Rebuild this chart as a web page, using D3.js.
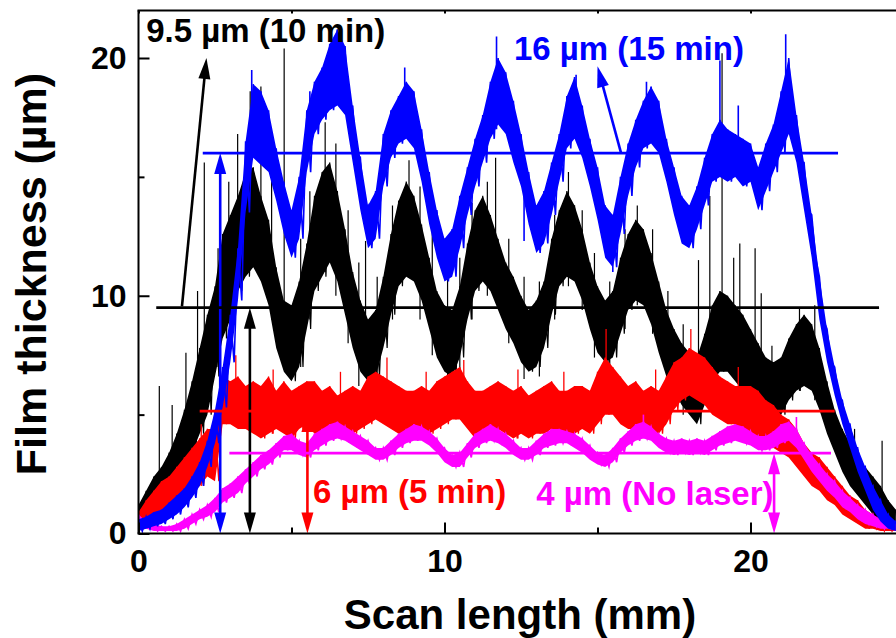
<!DOCTYPE html>
<html><head><meta charset="utf-8">
<script src="https://cdn.jsdelivr.net/npm/d3@7"></script>
<style>
body{margin:0;background:#fff}
text{font-family:"Liberation Sans",Arial,Helvetica,sans-serif;font-weight:bold}
</style>
</head><body>
<svg id="chart" width="896" height="638"></svg>
<script>
// ---------- DATA (0.25 mm bins: lower / upper edge of the noisy trace) ----------
const stepMM = 0.25;
const xTicks = [0, 10, 20];
const xMinorTicks = [5, 15];
const yTicks = [0, 10, 20];
const yMinorTicks = [5, 15];

const blueLo = [0.1,0.2,0.3,0.4, 0.6,0.8,1.1,1.5, 2.0,2.8,3.8,5.3, 7.2,9.8,13.5,15.8,
 15.5,15.2,14.0,12.6, 11.6,12.4,15.2,16.8, 17.4,17.8,18.0,17.6, 15.6,13.6,12.0,12.4,
 14.6,15.8,16.4,16.6, 16.2,14.8,13.0,11.6, 10.6,10.8,12.0,13.4, 14.6,15.6,16.6,17.2,
 16.8,15.6,14.6,13.0, 11.8,12.2,13.4,14.8, 16.2,16.6,15.8,14.6, 13.2,11.6,11.2,12.6,
 14.2,15.4,16.2,16.4, 16.0,14.8,13.4,12.2, 12.0,12.8,13.8,14.8, 15.0,14.8,15.0,14.6,
 14.8,13.6,14.4,15.2, 16.0,16.8,15.6,13.6, 11.6,9.0,7.2,5.8, 4.6,3.6,2.6,1.8, 1.0,0.5,0.2,0.1];
const blueHi = [0.6,0.7,0.9,1.0, 1.3,1.6,1.9,2.4, 3.0,3.9,5.2,7.0, 9.2,12.0,16.5,18.9,
 18.6,17.8,16.2,14.8, 13.6,15.0,17.8,19.0, 19.6,20.6,21.2,20.5, 18.0,15.8,13.8,14.4,
 16.8,17.8,18.4,19.0, 18.6,17.0,15.2,13.6, 12.4,12.8,14.2,15.4, 16.6,17.6,19.0,20.0,
 19.4,18.2,16.8,15.2, 13.8,14.4,15.6,16.8, 18.4,19.2,18.0,16.6, 15.4,13.8,13.4,15.0,
 16.4,17.4,18.2,18.8, 18.2,16.6,15.4,14.2, 13.8,14.6,15.8,16.8, 17.4,17.0,16.8,16.6,
 16.4,15.4,16.4,17.2, 18.6,20.0,17.6,15.6, 13.4,10.8,8.6,7.0, 5.6,4.6,3.6,2.8, 2.0,1.4,0.8,0.5];

const blackLo = [0.3,0.6,0.8,1.2, 1.5,1.8,2.6,3.4, 4.2,5.0,6.6,8.2, 9.0,10.2,10.8,11.2,
 10.6,9.6,7.8,6.8, 6.4,7.0,8.6,10.2, 10.8,11.4,10.6,9.2, 7.8,6.8,6.4,6.6,
 7.8,9.2,10.4,10.8, 10.6,9.8,8.6,7.4, 6.8,6.6,7.4,9.0, 10.2,10.6,10.2,9.4,
 8.6,8.0,7.2,6.8, 7.0,7.8,9.2,10.4, 10.8,10.6,9.8,8.6, 7.6,7.2,7.4,8.4,
 9.4,9.8,9.6,8.8, 7.6,6.6,6.0,5.4, 5.0,4.6,5.4,6.4, 6.8,6.8,6.4,6.0,
 5.6,5.2,4.8,4.8, 5.0,5.6,6.0,6.2, 6.0,5.2,4.2,3.4, 2.6,2.0,1.6,1.2, 0.8,0.4,0.2,0.2];
const blackHi = [1.2,1.8,2.4,2.8, 3.4,4.2,5.2,6.4, 7.8,9.2,10.4,12.6, 13.4,14.2,15.2,15.4,
 14.2,13.2,11.2,9.8, 9.6,10.6,12.2,14.2, 15.2,15.6,14.4,12.8, 11.0,9.8,9.0,9.4,
 10.8,12.6,14.0,14.8, 14.2,13.0,11.6,10.2, 9.6,9.4,10.4,12.2, 13.6,14.2,13.4,12.4,
 11.4,10.8,10.0,9.4, 9.8,10.6,12.4,13.6, 14.4,13.8,12.8,11.4, 10.4,9.8,10.2,11.6,
 12.6,13.2,12.8,11.8, 10.6,9.4,8.6,8.0, 7.6,7.4,8.4,9.6, 10.2,10.0,9.6,9.2,
 8.6,8.0,7.4,7.2, 7.4,8.2,8.8,9.2, 8.8,7.8,6.4,5.2, 4.4,3.8,3.2,2.8, 2.4,2.0,1.4,1.0];

const redLo = [0.1,0.3,0.6,0.8, 1.0,1.2,1.4,1.8, 2.0,2.4,2.2,4.6, 4.6,4.4,4.4,4.2,
 4.0,4.2,4.4,4.2, 4.0,4.4,4.6,4.2, 4.2,4.0,4.2,4.0, 4.2,4.4,4.6,4.8,
 4.6,4.4,4.2,4.0, 4.2,4.0,4.2,4.4, 4.6,4.8,4.8,4.4, 4.0,4.0,4.2,4.4,
 4.2,4.0,4.2,4.0, 4.2,4.2,4.4,4.2, 4.0,4.2,4.4,4.2, 4.6,5.0,5.0,4.6,
 4.4,4.4,4.2,4.4, 4.2,4.6,5.2,5.6, 5.8,5.6,5.4,5.0, 4.8,4.6,4.6,4.4,
 4.2,4.0,3.8,3.6, 3.4,3.2,2.8,2.4, 2.0,1.8,1.4,1.2, 0.8,0.6,0.4,0.2, 0.2,0.1,0.1,0.1];
const redHi = [0.9,1.4,1.8,2.2, 2.4,2.8,3.2,3.6, 4.0,4.4,4.4,6.6, 6.4,6.6,6.2,6.4,
 6.2,6.6,6.0,6.4, 6.0,6.2,6.4,6.4, 6.0,6.2,5.8,6.0, 6.2,6.0,6.6,6.8,
 6.6,6.4,6.2,6.0, 6.0,6.2,6.0,6.4, 6.6,6.8,7.0,6.4, 6.0,6.0,6.2,6.4,
 6.2,6.0,6.2,5.8, 6.0,6.2,6.4,6.0, 6.0,6.2,6.2,6.0, 6.8,7.4,7.0,6.6,
 6.2,6.4,6.0,6.2, 6.0,6.6,7.2,7.4, 7.8,7.6,7.4,7.0, 6.6,6.4,6.2,6.2,
 6.2,6.0,5.6,5.4, 5.0,4.8,4.4,3.8, 3.4,3.2,2.8,2.4, 2.0,1.6,1.4,1.0, 0.8,0.6,0.5,0.4];

const magentaLo = [0.3,0.2,0.1,0.1, 0.1,0.1,0.2,0.4, 0.6,0.7,0.9,1.3, 1.5,1.7,2.1,2.4,
 2.7,2.9,3.2,3.5, 3.5,3.3,3.2,3.5, 3.7,3.9,4.0,3.9, 3.7,3.5,3.3,3.1,
 3.1,3.3,3.6,3.8, 3.9,3.9,3.7,3.4, 3.0,2.8,2.8,3.2, 3.6,3.8,3.9,3.8,
 3.6,3.3,3.1,3.1, 3.3,3.6,3.7,3.8, 3.8,3.6,3.4,3.1, 2.9,2.8,3.0,3.4,
 3.7,3.9,4.0,3.9, 3.6,3.4,3.3,3.4, 3.3,3.4,3.3,3.5, 3.7,3.8,3.9,3.8,
 3.7,3.5,3.5,3.6, 3.8,3.9,3.6,3.1, 2.6,2.2,1.8,1.5, 1.1,0.9,0.6,0.4, 0.3,0.2,0.2,0.1];
const magentaHi = [0.8,0.5,0.4,0.3, 0.3,0.4,0.6,0.8, 1.0,1.2,1.5,1.9, 2.1,2.4,2.7,3.0,
 3.3,3.5,3.8,4.1, 4.2,3.9,3.8,4.2, 4.4,4.6,4.7,4.5, 4.3,4.1,3.9,3.6,
 3.6,3.9,4.2,4.4, 4.6,4.5,4.3,4.0, 3.6,3.3,3.4,3.8, 4.2,4.4,4.6,4.4,
 4.2,3.9,3.6,3.6, 3.9,4.2,4.4,4.4, 4.3,4.2,4.0,3.7, 3.4,3.3,3.6,4.0,
 4.3,4.6,4.7,4.5, 4.2,4.0,3.9,4.0, 3.9,4.0,3.9,4.1, 4.3,4.5,4.6,4.5,
 4.3,4.1,4.1,4.3, 4.6,4.7,4.4,3.8, 3.3,2.9,2.5,2.2, 1.8,1.5,1.2,1.0, 0.8,0.6,0.5,0.4];

// isolated narrow spikes: [mm, from, to]
const blackSpikes = [[0.68,1.5,6.2],[1.1,2,5.4],[1.55,3,7.6],[1.93,5,10.2],[2.15,6,15.6],[2.6,7,12.0],
 [2.95,9,14.8],[3.24,11,16.8],[3.65,12,18.6],[4.0,11,18.8],[4.35,9,15.2],[4.76,8,20.4],[5.3,7,12.4],
 [5.6,9,14.4],[6.1,11,17.3],[6.45,10,16.4],[6.85,8,13.6],[7.2,6.2,11.4],[7.42,7,12.3],[7.8,5.8,10.8],
 [8.3,9,13.8],[8.84,11,15.7],[9.2,9,14.6],[9.6,7.5,12.8],[10.1,6.2,10.8],[10.5,6.6,11.6],[10.9,9,13.9],
 [11.4,10,14.8],[11.67,10,15.8],[12.1,8,12.4],[12.6,6.5,10.8],[13.1,6.6,10.6],[13.6,9,13.4],[14.05,10.4,15.2],
 [14.5,9.4,13.6],[14.9,7.4,11.8],[15.4,6.8,10.6],[15.9,8.6,12.8],[16.3,9.6,13.8],[16.8,8.4,12.8],
 [17.3,6.2,10.2],[17.8,5.0,8.8],[18.3,5,11.5],[18.67,7,14.2],[19.07,7,20.2],[19.45,7,11.6],[19.65,7,12.2],
 [20.15,6,12.0],[20.35,6,10.1],[20.7,4.4,7.9],[21.6,6,9.5],[22.1,5.6,9.6],[23.4,1.8,4.4],[24.3,0.5,3.9]];
const blueSpikes = [[3.7,16,19.5],[5.6,16,18.6],[6.5,19,21.2],[8.7,17,19.6],[11.7,17,20.9],[14.3,17,19.3],
 [16.6,17,19.0],[19.0,15,19.9],[19.6,15,18.0],[21.15,17,21.0],[12.6,12.3,16],[15.5,11.0,13]];
const redSpikes = [[2.05,2,4.6],[3.18,5,7.5],[4.4,4.2,6.9],[6.6,4.0,6.8],[8.12,5,7.4],[9.4,4.0,6.8],
 [10.63,5,7.3],[12.4,4.0,6.9],[13.9,4.2,6.8],[15.28,5.5,8.6],[16.9,4.4,6.9],[18.05,6,8.6],[19.6,4.6,7.0]];
const magentaSpikes = [[16.5,4,5.0],[21.5,4,4.9]];

// average-thickness markers
const levelNames = ["blue","black","red","magenta"];
const levelValues = [16, 9.5, 5.15, 3.38];
const levelStart = [2.1, 0.58, 2.0, 2.97];
const levelEnd = [22.86, 24.2, 22.75, 22.63];
const levelArrowX = [2.67, 3.64, 5.52, 20.77];
const labelTexts = ["16 µm (15 min)", "9.5 µm (10 min)", "6 µm (5 min)", "4 µm (No laser)"];

// ---------- CHART ----------
const colors = {blue:"#0000ff", black:"#000000", red:"#ff0000", magenta:"#ff00ff"};
const svg = d3.select("#chart");
const x = d3.scaleLinear().domain([0, 24.8]).range([138.5, 897.4]);
const y = d3.scaleLinear().domain([0, 22]).range([533.5, 10.45]);

svg.append("defs").append("clipPath").attr("id","clip")
  .append("rect").attr("x",138.5).attr("y",10.5).attr("width",760).attr("height",523);

const plot = svg.append("g").attr("clip-path","url(#clip)");

function zig(lo, hi){
  const pts = [];
  lo.forEach((l,i)=>{ pts.push([i*stepMM, hi[i]]); pts.push([i*stepMM + stepMM/2, l]); });
  return pts;
}
const line = d3.line().x(d=>x(d[0])).y(d=>y(d[1]));
const area = d3.area().x((d,i)=>x(i*stepMM)).y0(d=>y(d[0])).y1(d=>y(d[1]));

const series = [
  {c:"black", lo:blackLo, hi:blackHi, sp:blackSpikes, w:1.2, op:1},
  {c:"red", lo:redLo, hi:redHi, sp:redSpikes, w:1.3, op:1},
  {c:"magenta", lo:magentaLo, hi:magentaHi, sp:magentaSpikes, w:1.6, op:1},
  {c:"blue", lo:blueLo, hi:blueHi, sp:blueSpikes, w:1.6, op:1}
];
series.forEach(s=>{
  const band = s.lo.map((l,i)=>[l, s.hi[i]]);
  plot.append("path").attr("d", area(band)).attr("fill", colors[s.c]).attr("fill-opacity", s.op).attr("stroke","none");
  plot.append("path").attr("d", line(zig(s.lo, s.hi))).attr("fill","none")
    .attr("stroke", colors[s.c]).attr("stroke-width", s.w).attr("stroke-linejoin","miter");
  plot.selectAll(null).data(s.sp).enter().append("line")
    .attr("x1", d=>x(d[0])).attr("x2", d=>x(d[0])).attr("y1", d=>y(d[1])).attr("y2", d=>y(d[2]))
    .attr("stroke", colors[s.c]).attr("stroke-width", s.w);
});

// arrow helper (pixel space)
function arrowHead(g, xt, yt, xf, yf, color, len, half){
  const a = Math.atan2(yt-yf, xt-xf);
  const bx = xt - len*Math.cos(a), by = yt - len*Math.sin(a);
  const px = -Math.sin(a)*half, py = Math.cos(a)*half;
  g.append("polygon").attr("points", `${xt},${yt} ${bx+px},${by+py} ${bx-px},${by-py}`).attr("fill", color);
}
function arrow(g, x1, y1, x2, y2, color, both){
  const a = Math.atan2(y2-y1, x2-x1);
  const len = 21, sh = 14;
  const sx = both ? x1 + sh*Math.cos(a) : x1, sy = both ? y1 + sh*Math.sin(a) : y1;
  g.append("line").attr("x1",sx).attr("y1",sy).attr("x2",x2 - sh*Math.cos(a)).attr("y2",y2 - sh*Math.sin(a))
    .attr("stroke",color).attr("stroke-width",2.6);
  arrowHead(g, x2, y2, x1, y1, color, len, 6);
  if(both) arrowHead(g, x1, y1, x2, y2, color, len, 6);
}

const ann = svg.append("g");
levelNames.forEach((n,i)=>{
  ann.append("line").attr("x1", x(levelStart[i])).attr("x2", x(levelEnd[i]))
    .attr("y1", y(levelValues[i])).attr("y2", y(levelValues[i]))
    .attr("stroke", colors[n]).attr("stroke-width", 2.8);
  arrow(ann, x(levelArrowX[i]), y(0), x(levelArrowX[i]), y(levelValues[i]), colors[n], true);
});
// pointer arrows to labels
arrow(ann, x(1.42), y(9.55), x(2.22), y(20.0), colors.black, false);
arrow(ann, x(15.77), y(16), x(15.0), y(19.65), colors.blue, false);

// labels
const labelPos = [[12.27, 19.9, "blue"], [0.25, 20.69, "black"], [5.7, 1.28, "red"], [13.0, 1.2, "magenta"]];
labelTexts.forEach((t,i)=>{
  ann.append("text").attr("x", x(labelPos[i][0])).attr("y", y(labelPos[i][1]))
    .attr("fill", colors[labelPos[i][2]]).attr("font-size", 33).text(t);
});

// ---------- AXES / FRAME ----------
const frame = svg.append("g");
frame.append("line").attr("x1",138.5).attr("x2",138.5).attr("y1",10.5).attr("y2",533.5).attr("stroke","#000").attr("stroke-width",2);
frame.append("line").attr("x1",137.5).attr("x2",898).attr("y1",533.5).attr("y2",533.5).attr("stroke","#000").attr("stroke-width",2);
frame.append("line").attr("x1",137.5).attr("x2",898).attr("y1",10.5).attr("y2",10.5).attr("stroke","#000").attr("stroke-width",2);

function styleAxis(g, fs){
  g.select(".domain").remove();
  g.selectAll(".tick line").attr("stroke","#000").attr("stroke-width",2);
  g.selectAll(".tick text").attr("fill","#000").attr("font-size",fs)
    .attr("font-family","'Liberation Sans',Arial,sans-serif").attr("font-weight","bold");
}
const gx = svg.append("g").attr("transform","translate(0,533.5)")
  .call(d3.axisBottom(x).tickValues(xTicks).tickFormat(d3.format("d")).tickSizeInner(-11).tickSizeOuter(0).tickPadding(16));
styleAxis(gx, 32);
const gxm = svg.append("g").attr("transform","translate(0,533.5)")
  .call(d3.axisBottom(x).tickValues(xMinorTicks).tickFormat("").tickSizeInner(-6).tickSizeOuter(0));
styleAxis(gxm, 32);
const gxt = svg.append("g").attr("transform","translate(0,10.5)")
  .call(d3.axisTop(x).tickValues(xTicks.concat(xMinorTicks)).tickFormat("").tickSizeInner(-3).tickSizeOuter(0));
styleAxis(gxt, 32);
const gy = svg.append("g").attr("transform","translate(138.5,0)")
  .call(d3.axisLeft(y).tickValues(yTicks).tickFormat(d3.format("d")).tickSizeInner(-11).tickSizeOuter(0).tickPadding(12));
styleAxis(gy, 32);
const gym = svg.append("g").attr("transform","translate(138.5,0)")
  .call(d3.axisLeft(y).tickValues(yMinorTicks).tickFormat("").tickSizeInner(-6).tickSizeOuter(0));
styleAxis(gym, 32);

svg.append("text").attr("x", 520).attr("y", 629).attr("text-anchor","middle")
  .attr("font-size", 42).attr("fill","#000").text("Scan length (mm)");
svg.append("text").attr("transform","translate(46,274) rotate(-90)").attr("text-anchor","middle")
  .attr("font-size", 43).attr("fill","#000").text("Film thickness (µm)");
</script>
</body></html>
